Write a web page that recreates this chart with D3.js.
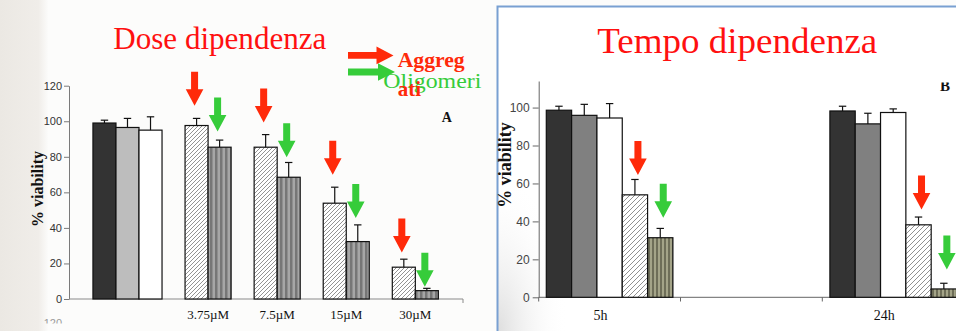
<!DOCTYPE html>
<html><head><meta charset="utf-8">
<script src="https://cdn.jsdelivr.net/npm/d3@7"></script>
<style>html,body{margin:0;padding:0;background:#fbfbfa;overflow:hidden}</style>
</head><body>
<script>
// ---------- DATA ----------
const catsA = ["", "3.75µM", "7.5µM", "15µM", "30µM"];
const controlA = [99, 96.5, 95];
const controlErrA = [1.6, 5.1, 7.5];
const aggrA = [97.6, 85.4, 53.9, 17.9];
const aggrErrA = [4.0, 7.1, 9.0, 4.5];
const oligoA = [85.4, 68.5, 32.3, 4.7];
const oligoErrA = [4.0, 8.3, 9.4, 1.3];
const redArrowA = [108.7, 99.3, 69.9, 26.1];
const greenArrowA = [94.3, 79.8, 45.6, 6.9];
const ticksA = [0, 20, 40, 60, 80, 100, 120];

const catsB = ["5h", "", "24h"];
const seriesB = ["ctrl1", "ctrl2", "ctrl3", "aggr", "oligo"];
const values5h = [98.6, 95.9, 94.5, 54.0, 31.4];
const err5h = [2.1, 5.8, 7.6, 8.1, 4.9];
const values24h = [98.2, 91.4, 97.4, 38.2, 4.4];
const err24h = [2.5, 5.6, 1.9, 4.1, 3.0];
const redArrowB = [64.4, 46.3];
const greenArrowB = [41.9, 14.7];
const ticksB = [0, 20, 40, 60, 80, 100];

// ---------- SETUP ----------
const W = 956, H = 331;
const svg = d3.select("body").append("svg").attr("width", W).attr("height", H);
const defs = svg.append("defs");
const RED = "#ff2a0a", GREEN = "#36cc3a", TITLE_RED = "#ff1010";

// patterns
const hA = defs.append("pattern").attr("id","hatchA").attr("patternUnits","userSpaceOnUse").attr("width",4).attr("height",4);
hA.append("rect").attr("width",4).attr("height",4).attr("fill","#fff");
hA.append("path").attr("d","M-1,1 l2,-2 M0,4 l4,-4 M3,5 l2,-2").attr("stroke","#777").attr("stroke-width",0.8);
const hB = defs.append("pattern").attr("id","hatchB").attr("patternUnits","userSpaceOnUse").attr("width",5).attr("height",5);
hB.append("rect").attr("width",5).attr("height",5).attr("fill","#fff");
hB.append("path").attr("d","M-1,1 l2,-2 M0,5 l5,-5 M4,6 l2,-2").attr("stroke","#909090").attr("stroke-width",1);
const sA = defs.append("pattern").attr("id","stripeA").attr("patternUnits","userSpaceOnUse").attr("width",5).attr("height",5);
sA.append("rect").attr("width",5).attr("height",5).attr("fill","#a6a6a6");
sA.append("rect").attr("width",2.5).attr("height",5).attr("fill","#767676");
const sB = defs.append("pattern").attr("id","stripeB").attr("patternUnits","userSpaceOnUse").attr("width",4).attr("height",4);
sB.append("rect").attr("width",4).attr("height",4).attr("fill","#a4a488");
sB.append("rect").attr("width",2).attr("height",4).attr("fill","#6e6e58");

const lg = defs.append("linearGradient").attr("id","leftBg").attr("x1",0).attr("x2",1).attr("y1",0).attr("y2",0);
lg.append("stop").attr("offset","0").attr("stop-color","#ebe8e3");
lg.append("stop").attr("offset","0.8").attr("stop-color","#f0ede9");
lg.append("stop").attr("offset","1").attr("stop-color","#fbfbfa");
const rg = defs.append("radialGradient").attr("id","rightBg").attr("cx",0).attr("cy",1).attr("r",1);
rg.append("stop").attr("offset","0").attr("stop-color","#dedede");
rg.append("stop").attr("offset","1").attr("stop-color","#ffffff").attr("stop-opacity",0);

// backgrounds
svg.append("rect").attr("x",0).attr("y",0).attr("width",W).attr("height",H).attr("fill","#fcfcfb");
svg.append("rect").attr("x",0).attr("y",0).attr("width",48).attr("height",H).attr("fill","url(#leftBg)");
svg.append("rect").attr("x",498).attr("y",7).attr("width",W-498).attr("height",H-7).attr("fill","#ffffff");
svg.append("rect").attr("x",498).attr("y",170).attr("width",70).attr("height",161).attr("fill","url(#rightBg)");

function downArrow(g, cx, ty, color) {
  const L = 34, hh = 16.5, hw = 8.8, sw = 3.5;
  g.append("path")
    .attr("d", `M${cx-sw},${ty-L} L${cx+sw},${ty-L} L${cx+sw},${ty-hh} L${cx+hw},${ty-hh} L${cx},${ty} L${cx-hw},${ty-hh} L${cx-sw},${ty-hh} Z`)
    .attr("fill", color);
}
function rightArrow(g, x0, tx, cy, color) {
  const hh = 17, hw = 8.8, sw = 3.4;
  g.append("path")
    .attr("d", `M${x0},${cy-sw} L${tx-hh},${cy-sw} L${tx-hh},${cy-hw} L${tx},${cy} L${tx-hh},${cy+hw} L${tx-hh},${cy+sw} L${x0},${cy+sw} Z`)
    .attr("fill", color);
}
function errBar(g, cx, y0, y1) {
  g.append("line").attr("x1",cx).attr("x2",cx).attr("y1",y0).attr("y2",y1).attr("stroke","#111").attr("stroke-width",1.2);
  g.append("line").attr("x1",cx-3.7).attr("x2",cx+3.7).attr("y1",y1).attr("y2",y1).attr("stroke","#111").attr("stroke-width",1.2);
}

// ---------- CHART A ----------
const gA = svg.append("g");
const yA = d3.scaleLinear().domain([0, 120]).range([299, 85.7]);
const xA = d3.scaleLinear().domain([-1.04, 16.07]).range([69, 463]);
const slotW = xA(1) - xA(0);
const slotOf = (i, j) => i === 0 ? j : 3 * i + 1 + j;

const axA = gA.append("g").attr("transform","translate(69,0)")
  .call(d3.axisLeft(yA).tickValues(ticksA).tickSize(5).tickPadding(2).tickSizeOuter(0));
axA.select(".domain").attr("stroke","#7a7a7a");
axA.selectAll(".tick line").attr("stroke","#7a7a7a");
axA.selectAll(".tick text").attr("font-family","Liberation Sans, Arial, sans-serif").attr("font-size",11).attr("fill","#333");
gA.append("line").attr("x1",69).attr("x2",463).attr("y1",299).attr("y2",299).attr("stroke","#8a8a8a").attr("stroke-width",1);
gA.append("line").attr("x1",463).attr("x2",463).attr("y1",299).attr("y2",303).attr("stroke","#8a8a8a");

const ctrlFillsA = ["#333333", "#bdbdbd", "#ffffff"];
controlA.forEach((v, j) => {
  const x0 = xA(slotOf(0, j));
  gA.append("rect").attr("x",x0).attr("y",yA(v)).attr("width",slotW).attr("height",yA(0)-yA(v))
    .attr("fill",ctrlFillsA[j]).attr("stroke","#111").attr("stroke-width",1.2);
  errBar(gA, x0 + slotW/2, yA(v), yA(v + controlErrA[j]));
});
aggrA.forEach((v, k) => {
  const i = k + 1;
  const xa = xA(slotOf(i, 0)), xo = xA(slotOf(i, 1));
  const vo = oligoA[k];
  gA.append("rect").attr("x",xa).attr("y",yA(v)).attr("width",slotW).attr("height",yA(0)-yA(v))
    .attr("fill","url(#hatchA)").attr("stroke","#111").attr("stroke-width",1.2);
  gA.append("rect").attr("x",xo).attr("y",yA(vo)).attr("width",slotW).attr("height",yA(0)-yA(vo))
    .attr("fill","url(#stripeA)").attr("stroke","#111").attr("stroke-width",1.2);
  errBar(gA, xa + slotW/2, yA(v), yA(v + aggrErrA[k]));
  errBar(gA, xo + slotW/2, yA(vo), yA(vo + oligoErrA[k]));
  downArrow(gA, xa + slotW/2 - 2, yA(redArrowA[k]), RED);
  downArrow(gA, xo + slotW/2 - 2, yA(greenArrowA[k]), GREEN);
});
catsA.forEach((c, i) => {
  if (!c) return;
  gA.append("text").attr("x", xA(slotOf(i, 1))).attr("y", 319).attr("text-anchor","middle")
    .attr("font-family","Liberation Serif, Times New Roman, serif").attr("font-size",13).attr("fill","#111").text(c);
});
gA.append("text").attr("transform","translate(43,189) rotate(-90)").attr("text-anchor","middle")
  .attr("font-family","Liberation Serif, Times New Roman, serif").attr("font-weight","bold").attr("font-size",16).attr("fill","#111").text("% viability");
gA.append("text").attr("x",441.7).attr("y",122.3).attr("font-family","Liberation Serif, serif").attr("font-weight","bold").attr("font-size",14).attr("fill","#111").text("A");
const clipA = defs.append("clipPath").attr("id","cutA");
clipA.append("rect").attr("x",0).attr("y",0).attr("width",W).attr("height",323.5);
gA.append("text").attr("x",62).attr("y",327).attr("text-anchor","end").attr("clip-path","url(#cutA)")
  .attr("font-family","Liberation Sans, sans-serif").attr("font-size",11).attr("fill","#9a9a9a").text("120");

// title & legend
svg.append("text").attr("x",113.3).attr("y",49.3).attr("font-family","Liberation Serif, Times New Roman, serif")
  .attr("font-size",31).attr("fill",TITLE_RED).attr("textLength",213).attr("lengthAdjust","spacingAndGlyphs").text("Dose dipendenza");
rightArrow(svg, 348, 393.5, 55.4, RED);
rightArrow(svg, 348, 395, 72, GREEN);
svg.append("text").attr("x",397.7).attr("y",66.7).attr("font-family","Liberation Serif, serif").attr("font-weight","bold")
  .attr("font-size",21).attr("fill",RED).attr("textLength",67).attr("lengthAdjust","spacingAndGlyphs").text("Aggreg");
svg.append("text").attr("x",383.3).attr("y",88.3).attr("font-family","Liberation Serif, serif")
  .attr("font-size",22).attr("fill",GREEN).attr("textLength",98).attr("lengthAdjust","spacingAndGlyphs").text("Oligomeri");
svg.append("text").attr("x",397.7).attr("y",96).attr("font-family","Liberation Serif, serif").attr("font-weight","bold")
  .attr("font-size",21).attr("fill",RED).text("ati");

// ---------- CHART B ----------
svg.append("path").attr("d",`M497.5,${H} L497.5,6.5 L${W},6.5`).attr("fill","none").attr("stroke","#79a0d2").attr("stroke-width",2);
const gB = svg.append("g");
const yB = d3.scaleLinear().domain([0, 114]).range([297.3, 81]);
const xB = d3.scaleBand().domain(catsB).range([538.7, 538.7 + 3 * 141.8]).padding(0);
const xBi = d3.scaleBand().domain(seriesB).range([0, xB.bandwidth()]).paddingInner(0).paddingOuter(0.3);

const axB = gB.append("g").attr("transform","translate(538.7,0)")
  .call(d3.axisLeft(yB).tickValues(ticksB).tickSize(6).tickPadding(3).tickSizeOuter(0));
axB.select(".domain").attr("stroke","#666");
axB.selectAll(".tick line").attr("stroke","#666");
axB.selectAll(".tick text").attr("font-family","Liberation Sans, Arial, sans-serif").attr("font-size",12).attr("fill","#444");
gB.append("line").attr("x1",538.7).attr("x2",W).attr("y1",297.3).attr("y2",297.3).attr("stroke","#666");
catsB.forEach(c => {
  const bx = xB(c);
  gB.append("line").attr("x1",bx).attr("x2",bx).attr("y1",297.3).attr("y2",301.5).attr("stroke","#666");
});

const fillsB = ["#333333", "#808080", "#ffffff", "url(#hatchB)", "url(#stripeB)"];
const groupsB = [{cat: "5h", vals: values5h, errs: err5h, red: redArrowB[0], green: greenArrowB[0]},
                 {cat: "24h", vals: values24h, errs: err24h, red: redArrowB[1], green: greenArrowB[1]}];
groupsB.forEach(gr => {
  seriesB.forEach((s, j) => {
    const x0 = xB(gr.cat) + xBi(s), v = gr.vals[j], bw = xBi.bandwidth();
    gB.append("rect").attr("x",x0).attr("y",yB(v)).attr("width",bw).attr("height",yB(0)-yB(v))
      .attr("fill",fillsB[j]).attr("stroke","#111").attr("stroke-width",1.2);
    errBar(gB, x0 + bw/2, yB(v), yB(v + gr.errs[j]));
  });
  const bw = xBi.bandwidth();
  downArrow(gB, xB(gr.cat) + xBi("aggr") + bw/2 + 3, yB(gr.red), RED);
  downArrow(gB, xB(gr.cat) + xBi("oligo") + bw/2 + 3, yB(gr.green), GREEN);
});
catsB.forEach(c => {
  if (!c) return;
  gB.append("text").attr("x", xB(c) + xB.bandwidth()/2 - 9).attr("y", 319.5).attr("text-anchor","middle")
    .attr("font-family","Liberation Serif, Times New Roman, serif").attr("font-size",14).attr("fill","#111").text(c);
});
gB.append("text").attr("transform","translate(511,165) rotate(-90)").attr("text-anchor","middle")
  .attr("font-family","Liberation Serif, Times New Roman, serif").attr("font-weight","bold").attr("font-size",18).attr("fill","#111").text("% viability");
const clipB = defs.append("clipPath").attr("id","cutB");
clipB.append("rect").attr("x",900).attr("y",82.5).attr("width",60).attr("height",20);
gB.append("text").attr("x",940).attr("y",91).attr("clip-path","url(#cutB)").attr("font-family","Liberation Serif, serif")
  .attr("font-weight","bold").attr("font-size",15).attr("fill","#111").text("B");
svg.append("text").attr("x",597.3).attr("y",53.3).attr("font-family","Liberation Serif, Times New Roman, serif")
  .attr("font-size",36).attr("fill",TITLE_RED).attr("textLength",280).attr("lengthAdjust","spacingAndGlyphs").text("Tempo dipendenza");
</script>
</body></html>
